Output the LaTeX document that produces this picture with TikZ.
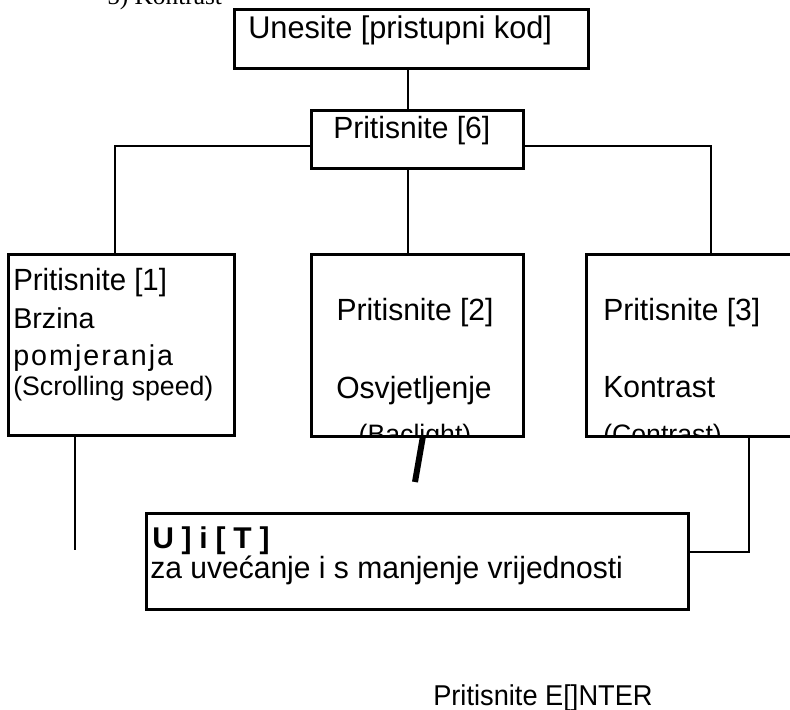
\documentclass[tikz,border=0pt]{standalone}
\usepackage{fontspec}
\setmainfont{Liberation Sans}
\newfontfamily\serifx{Liberation Serif}
\usetikzlibrary{fit,calc}
\tikzset{
  box/.style={draw,line width=2.25pt,inner sep=0pt,fill=none},
  conn/.style={line width=1.5pt},
  slash/.style={line width=4.5pt},
  txt/.style={inner sep=0pt,anchor=base west},
  txtc/.style={inner sep=0pt,anchor=base},
  fbig/.style={font=\fontsize{23.5}{27}\selectfont},
  fmain/.style={font=\fontsize{23}{27}\selectfont},
  fsub/.style={font=\fontsize{20}{24}\selectfont},
}
\begin{document}
\begin{tikzpicture}[x=0.75pt,y=-0.75pt]
\clip (0,0) rectangle (790,710);
\useasboundingbox (0,0) rectangle (790,710);

% cut-off heading at the top
\node[txt,font=\serifx\fontsize{19}{23}\selectfont] (head) at (107,5) {5) Kontrast};

% boxes
\node[box,fit={(234,10) (588,69)}] (top) {};
\node[box,fit={(311,111) (523,169)}] (p6) {};
\node[box,fit={(8,254) (234,435)}] (b1) {};
\node[box,fit={(311,254) (523,436)}] (b2) {};
\node[box,fit={(586,254) (820,436)}] (b3) {};
\node[box,fit={(146,513) (688,609)}] (b4) {};

% texts
\node[txt,fbig,xscale=0.98] (ttop) at (248,39) {Unesite [pristupni kod]};
\node[txt,fmain,xscale=0.98] (tp6) at (333,138) {Pritisnite [6]};

\node[txt,fmain,xscale=0.96] (t1a) at (13,290) {Pritisnite [1]};
\node[txt,font=\fontsize{21.5}{25}\selectfont] (t1b) at (13,328) {Brzina};
\node[txt,font=\fontsize{21.5}{25}\selectfont\addfontfeature{LetterSpace=7}] (t1c) at (13,365) {pomjeranja};
\node[txt,fsub] (t1d) at (13,395) {(Scrolling speed)};

\node[txtc,fmain,xscale=0.98] (t2a) at (415,320) {Pritisnite [2]};
\node[txtc,fmain,xscale=0.98] (t2b) at (414,398) {Osvjetljenje};
\begin{scope}
\clip (b2.south west) rectangle (b2.north east);
\node[txtc,fsub] (t2c) at (415,443) {(Baclight)};
\end{scope}

\node[txt,fmain,xscale=0.98] (t3a) at (603,320) {Pritisnite [3]};
\node[txt,fmain,xscale=0.98] (t3b) at (603,397) {Kontrast};
\begin{scope}
\clip (b3.south west) rectangle (b3.north east);
\node[txt,fsub] (t3c) at (603,443) {(Contrast)};
\end{scope}

\node[txt,font=\bfseries\fontsize{22.5}{26}\selectfont\addfontfeature{LetterSpace=26}] (t4a) at (152,548) {U]i[T]};
\node[txt,fmain,xscale=0.98] (t4b) at (150,578) {za uvećanje i s manjenje vrijednosti};

\node[txt,font=\fontsize{21.5}{25}\selectfont,xscale=0.95] (enter) at (433,705) {Pritisnite E[]NTER};

% connectors
\coordinate (m0) at (408,69);
\draw[conn] (m0) -- (m0 |- p6.north);
\coordinate (cl) at (115,146);
\coordinate (cr) at (711,146);
\draw[conn] (p6.west |- cl) -- (cl) -- (cl |- b1.north);
\draw[conn] (p6.east |- cr) -- (cr) -- (cr |- b3.north);
\coordinate (cm) at (408,169);
\draw[conn] (cm) -- (cm |- b2.north);

\coordinate (l1) at (75,550);
\draw[conn] (l1 |- b1.south) -- (l1);

\coordinate (s0) at (423,436);
\coordinate (s1) at (415,482);
\draw[slash] (s0) -- (s1);

\coordinate (r1) at (749,552);
\draw[conn] (r1 |- b3.south) -- (r1) -- (b4.east |- r1);
\end{tikzpicture}
\end{document}
